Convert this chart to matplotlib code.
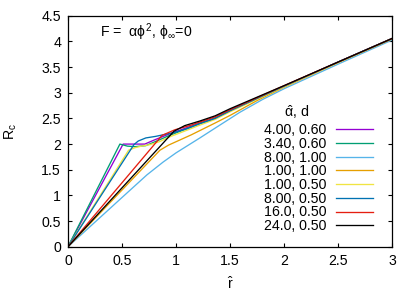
import matplotlib
matplotlib.use('Agg')
import matplotlib.pyplot as plt

plt.rcParams['font.family'] = ['Liberation Sans', 'DejaVu Sans']
plt.rcParams['mathtext.fontset'] = 'custom'
plt.rcParams['mathtext.rm'] = 'Liberation Sans'
plt.rcParams['mathtext.it'] = 'Liberation Sans'
plt.rcParams['mathtext.bf'] = 'Liberation Sans:bold'
plt.rcParams['font.size'] = 10.2

# curves: (alpha_hat, d) -> r_hat, R_c
labels = ['4.00, 0.60', '3.40, 0.60', '8.00, 1.00', '1.00, 1.00',
          '1.00, 0.50', '8.00, 0.50', '16.0, 0.50', '24.0, 0.50']
colors = ['#9400d3', '#009e73', '#56b4e9', '#e69f00',
          '#f0e442', '#0072b2', '#e51e10', '#000000']

r_purple = [0, 0.51, 0.71, 0.81, 0.94, 1.1, 1.22, 1.36, 1.5, 2.0, 2.5, 3.0]
R_purple = [0, 2.0, 2.0, 2.09, 2.2, 2.32, 2.41, 2.51, 2.66, 3.13, 3.6, 4.06]

r_green = [0, 0.48, 0.55, 0.62, 0.72, 0.81, 0.94, 1.1, 1.22, 1.36, 1.5, 2.0, 2.5, 3.0]
R_green = [0, 2.0, 1.96, 1.95, 1.97, 2.05, 2.17, 2.3, 2.4, 2.5, 2.65, 3.13, 3.6, 4.06]

r_sky = [0, 0.5, 0.73, 0.88, 1.0, 1.22, 1.36, 1.59, 1.8, 2.0, 2.5, 3.0]
R_sky = [0, 0.96, 1.40, 1.65, 1.83, 2.12, 2.31, 2.62, 2.87, 3.08, 3.56, 4.03]

r_orange = [0, 0.85, 0.93, 1.14, 1.36, 1.5, 1.75, 2.0, 2.5, 3.0]
R_orange = [0, 1.88, 1.98, 2.18, 2.41, 2.56, 2.85, 3.11, 3.59, 4.05]

r_yellow = [0, 0.56, 0.62, 0.68, 0.76, 0.85, 0.94, 1.1, 1.22, 1.36, 1.5, 2.0, 2.5, 3.0]
R_yellow = [0, 1.88, 1.93, 1.96, 1.99, 2.05, 2.14, 2.27, 2.37, 2.48, 2.63, 3.12, 3.59, 4.06]

r_blue = [0, 0.61, 0.65, 0.72, 0.81, 0.99, 1.1, 1.22, 1.36, 1.5, 2.0, 2.5, 3.0]
R_blue = [0, 1.99, 2.06, 2.12, 2.15, 2.23, 2.3, 2.4, 2.5, 2.65, 3.13, 3.6, 4.06]

r_red = [0, 0.87, 0.99, 1.14, 1.22, 1.36, 1.5, 2.0, 2.5, 3.0]
R_red = [0, 2.17, 2.28, 2.37, 2.43, 2.53, 2.67, 3.14, 3.6, 4.06]

r_black = [0, 0.98, 1.08, 1.22, 1.36, 1.5, 2.0, 2.5, 3.0]
R_black = [0, 2.25, 2.36, 2.45, 2.55, 2.69, 3.14, 3.6, 4.06]

curves = [(r_purple, R_purple), (r_green, R_green), (r_sky, R_sky),
          (r_orange, R_orange), (r_yellow, R_yellow), (r_blue, R_blue),
          (r_red, R_red), (r_black, R_black)]

fig = plt.figure(figsize=(4.17, 2.92), dpi=100)
ax = fig.add_axes([0.163, 0.155, 0.778, 0.791])

for (r, R), c, lab in zip(curves, colors, labels):
    ax.plot(r, R, color=c, lw=0.95, label=lab)

ax.set_xlim(0, 3)
ax.set_ylim(0, 4.5)
ax.set_xticks([0, 0.5, 1, 1.5, 2, 2.5, 3])
ax.set_xticklabels(['0', '0.5', '1', '1.5', '2', '2.5', '3'])
ax.set_yticks([0, 0.5, 1, 1.5, 2, 2.5, 3, 3.5, 4, 4.5])
ax.set_yticklabels(['0', '0.5', '1', '1.5', '2', '2.5', '3', '3.5', '4', '4.5'])
ax.tick_params(direction='in', top=True, right=True, length=3.2, width=0.8, pad=5)

for s in ax.spines.values():
    s.set_linewidth(0.9)

ax.set_xlabel(r'$\hat{\mathrm{r}}$')
ax.set_ylabel(r'R$_\mathrm{c}$')
ax.xaxis.set_label_coords(0.5, -0.125)
ax.yaxis.set_label_coords(-0.15, 0.5)

ax.text(0.099, 0.93, r'F =  $\alpha\phi^2$, $\phi_\infty$=0', transform=ax.transAxes,
        ha='left', va='center')

ax.text(0.704, 0.585, r'$\hat{\alpha}$, d', transform=ax.transAxes,
        ha='center', va='center')

ax.legend(loc='upper right', bbox_to_anchor=(0.941, 0.535), frameon=False,
          markerfirst=False, handlelength=2.65, handletextpad=0.65,
          labelspacing=-0.02, borderpad=0, borderaxespad=0)

fig.savefig('out.png', dpi=100)
